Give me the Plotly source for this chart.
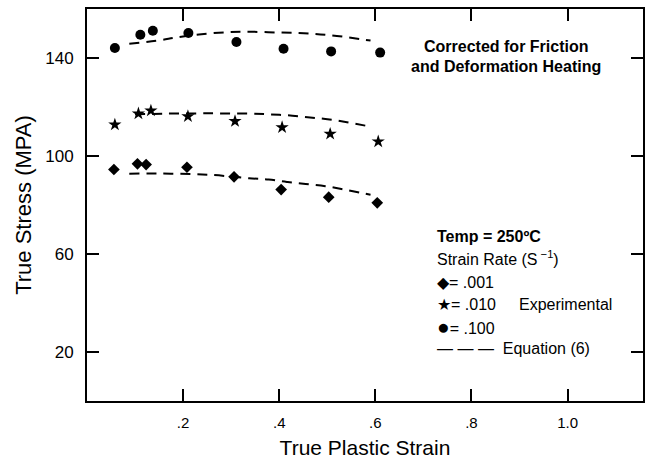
import plotly.graph_objects as go

# Experimental flow stress, 250 C, three strain rates
strain_001 = [0.056, 0.105, 0.123, 0.208, 0.306, 0.404, 0.503, 0.604]
stress_001 = [94.5, 96.8, 96.5, 95.4, 91.5, 86.3, 83.2, 80.9]

strain_010 = [0.058, 0.107, 0.133, 0.210, 0.308, 0.406, 0.506, 0.606]
stress_010 = [112.8, 117.3, 118.5, 116.2, 114.2, 111.7, 109.0, 105.9]

strain_100 = [0.058, 0.111, 0.137, 0.211, 0.311, 0.409, 0.508, 0.610]
stress_100 = [144.1, 149.5, 151.1, 150.2, 146.5, 143.8, 142.7, 142.2]

# Equation (6) predictions
eq_strain_001 = [0.088, 0.175, 0.258, 0.337, 0.378, 0.416, 0.455, 0.496, 0.536, 0.577, 0.59]
eq_stress_001 = [92.8, 92.8, 92.3, 90.9, 90.4, 89.4, 88.6, 87.7, 86.3, 84.7, 84.2]

eq_strain_010 = [0.10, 0.165, 0.258, 0.337, 0.38, 0.418, 0.459, 0.496, 0.538, 0.579, 0.59]
eq_stress_010 = [117.0, 117.3, 117.4, 117.3, 117.0, 116.6, 115.8, 115.1, 113.9, 112.4, 112.0]

eq_strain_100 = [0.088, 0.154, 0.183, 0.233, 0.29, 0.337, 0.40, 0.461, 0.52, 0.59]
eq_stress_100 = [145.8, 147.3, 148.3, 149.6, 150.5, 150.7, 150.4, 150.0, 149.0, 147.1]

x_tickvals = [0.2, 0.4, 0.6, 0.8, 1.0]
x_ticktext = [".2", ".4", ".6", ".8", "1.0"]
y_tickvals = [20, 60, 100, 140]
y_ticktext = ["20", "60", "100", "140"]

FONT = "Liberation Sans, Arial, Helvetica, sans-serif"
INK = "black"

fig = go.Figure()

dash_style = dict(color=INK, width=2, dash="10px,7px", shape="spline")
for xs, ys in [(eq_strain_001, eq_stress_001),
               (eq_strain_010, eq_stress_010),
               (eq_strain_100, eq_stress_100)]:
    fig.add_trace(go.Scatter(x=xs, y=ys, mode="lines", line=dash_style,
                             hoverinfo="skip", showlegend=False))

fig.add_trace(go.Scatter(x=strain_001, y=stress_001, mode="markers",
                         marker=dict(symbol="diamond", size=9, color=INK),
                         showlegend=False))
fig.add_trace(go.Scatter(x=strain_010, y=stress_010, mode="markers",
                         marker=dict(symbol="star", size=10, color=INK),
                         showlegend=False))
fig.add_trace(go.Scatter(x=strain_100, y=stress_100, mode="markers",
                         marker=dict(symbol="circle", size=10, color=INK),
                         showlegend=False))

axis_common = dict(
    showline=True, linecolor=INK, linewidth=2, mirror="allticks",
    ticks="inside", ticklen=12, tickwidth=1.5, tickcolor=INK,
    showgrid=False, zeroline=False,
)

fig.update_xaxes(range=[0, 1.157], tickvals=x_tickvals, ticktext=x_ticktext,
                 tickfont=dict(family=FONT, size=15, color=INK),
                 ticklabelstandoff=7,
                 title=dict(text="True Plastic Strain",
                            font=dict(family=FONT, size=21, color=INK),
                            standoff=10),
                 **axis_common)
fig.update_yaxes(range=[0, 160], tickvals=y_tickvals, ticktext=y_ticktext,
                 tickfont=dict(family=FONT, size=17, color=INK),
                 ticklabelstandoff=8,
                 title=dict(text="True Stress (MPA)",
                            font=dict(family=FONT, size=22, color=INK),
                            standoff=8),
                 **axis_common)


def px_x(p):
    return (p - 87) / 558.0


def px_y(p):
    return 1 - (p - 9) / 393.0


for ypx, txt in [(47, "<b>Corrected for Friction</b>"),
                 (67, "<b>and Deformation Heating</b>")]:
    fig.add_annotation(x=px_x(508), y=px_y(ypx), xref="paper", yref="paper",
                       text=txt, showarrow=False, xanchor="center", yanchor="middle",
                       font=dict(family=FONT, size=16, color=INK))

sym = '<span style="font-size:{}px">{}</span>'
key_lines = [
    (237, "<b>Temp = 250ºC</b>"),
    (259, "Strain Rate (S<sup> −1</sup>)"),
    (283, sym.format(16, "◆") + "= .001"),
    (305, sym.format(16, "★") + "= .010"),
    (327, sym.format(21, "●") + "= .100"),
    (349, "— — —  Equation (6)"),
]
for ypx, txt in key_lines:
    fig.add_annotation(x=px_x(436), y=px_y(ypx), xref="paper", yref="paper",
                       text=txt, showarrow=False, xanchor="left", yanchor="middle",
                       font=dict(family=FONT, size=16, color=INK))
fig.add_annotation(x=px_x(519), y=px_y(305), xref="paper", yref="paper",
                   text="Experimental", showarrow=False, xanchor="left", yanchor="middle",
                   font=dict(family=FONT, size=16, color=INK))

fig.update_layout(
    width=652, height=463,
    margin=dict(l=87, r=7, t=9, b=61),
    paper_bgcolor="white", plot_bgcolor="white",
    font=dict(family=FONT, color=INK),
)

fig.write_html("out.html")
